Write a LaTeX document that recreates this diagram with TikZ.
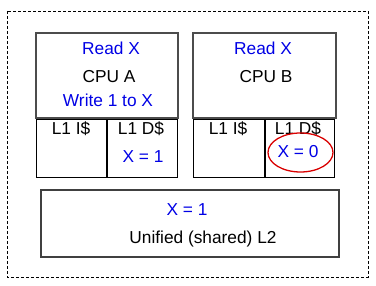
\documentclass[tikz,border=0pt]{standalone}
\usepackage{fontspec}
\setmainfont{Liberation Sans}
\begin{document}
\begin{tikzpicture}[x=1pt,y=-1pt,
  every node/.style={font=\fontsize{17.3}{20}\selectfont, inner sep=0pt},
  cpubox/.style={draw=black!70, line width=1.2pt},
  l1box/.style={draw=black, line width=1pt},
  l2box/.style={draw=black!75, line width=1.2pt},
  bluetxt/.style={text=blue!90!black},
  blk/.style={text=black}]
\useasboundingbox (0,0) rectangle (376,286);
\draw[dash pattern=on 3pt off 2pt, line width=0.8pt] (7,11) rectangle (368,277);
% CPU A
\draw[cpubox] (36,33) rectangle (178,118);
\node[bluetxt] (ra) at (111,48) {Read X};
\node[blk] (cpua) at (109,77) {CPU A};
\node[bluetxt] (wa) at (108,100) {Write 1 to X};
\draw[l1box] (36,120) rectangle (106,178);
\draw[l1box] (107,120) rectangle (177,178);
\node[blk] (ia) at (71,129) {L1 I\$};
\node[blk] (da) at (141,129) {L1 D\$};
\node[bluetxt] (xa) at (143,157) {X = 1};
% CPU B
\draw[cpubox] (193,33) rectangle (336,118);
\node[bluetxt] (rb) at (263,48) {Read X};
\node[blk] (cpub) at (266,77) {CPU B};
\draw[l1box] (193,120) rectangle (264,178);
\draw[l1box] (265,120) rectangle (334,178);
\node[blk] (ib) at (228,129) {L1 I\$};
\node[blk] (db) at (298,129) {L1 D\$};
\node[bluetxt] (xb) at (298,152) {X = 0};
\draw[red!85!black, line width=1.3pt] (300.5,152.5) ellipse [x radius=32.5, y radius=19.5];
% L2
\draw[l2box] (41,190) rectangle (339,257);
\node[bluetxt] (x2) at (187,210) {X = 1};
\node[blk] (l2) at (203,239) {Unified (shared) L2};
\end{tikzpicture}
\end{document}
